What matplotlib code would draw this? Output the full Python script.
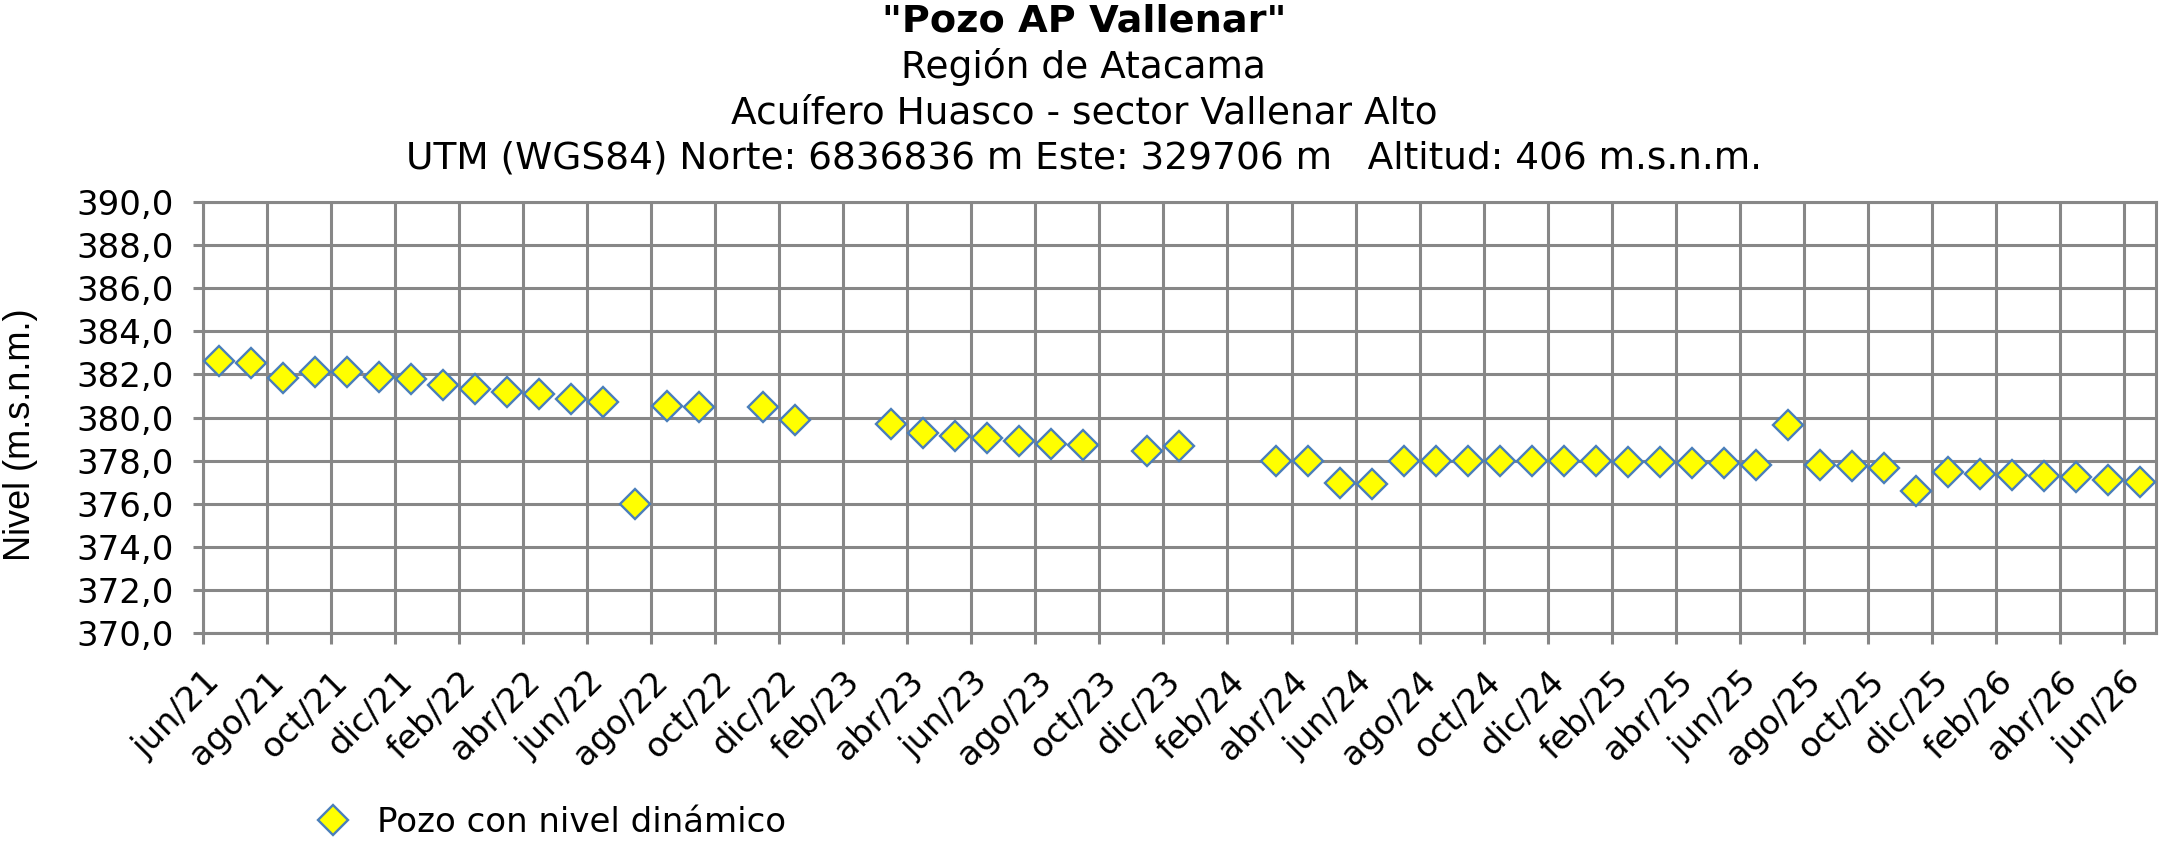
import matplotlib
matplotlib.use("Agg")
import matplotlib.pyplot as plt
import matplotlib.transforms as mtransforms
from matplotlib.lines import Line2D

# meses desde jun/21 (0) ; cada medicion a mitad de mes
mes = [0, 1, 2, 3, 4, 5, 6, 7, 8, 9, 10, 11, 12, 13, 14, 15,
       17, 18,
       21, 22, 23, 24, 25, 26, 27,
       29, 30,
       33, 34, 35, 36, 37, 38, 39, 40, 41, 42, 43, 44, 45, 46, 47, 48,
       49, 50, 51, 52, 53, 54, 55, 56, 57, 58, 59, 60]
nivel = [382.62, 382.52, 381.83, 382.09, 382.09, 381.89, 381.81, 381.51,
         381.31, 381.20, 381.08, 380.85, 380.70, 375.98, 380.52, 380.49,
         380.47, 379.87,
         379.72, 379.27, 379.15, 379.06, 378.90, 378.77, 378.74,
         378.44, 378.69,
         377.97, 377.97, 376.95, 376.92, 378.00, 378.00, 378.00, 378.00,
         378.00, 378.00, 378.00, 377.92, 377.92, 377.89, 377.89, 377.81,
         379.63, 377.81, 377.74, 377.66, 376.57, 377.46, 377.38, 377.33,
         377.30, 377.22, 377.12, 377.02]

tick_mes = list(range(0, 61, 2))
tick_lbl = ['jun/21', 'ago/21', 'oct/21', 'dic/21', 'feb/22', 'abr/22',
            'jun/22', 'ago/22', 'oct/22', 'dic/22', 'feb/23', 'abr/23',
            'jun/23', 'ago/23', 'oct/23', 'dic/23', 'feb/24', 'abr/24',
            'jun/24', 'ago/24', 'oct/24', 'dic/24', 'feb/25', 'abr/25',
            'jun/25', 'ago/25', 'oct/25', 'dic/25', 'feb/26', 'abr/26',
            'jun/26']
y_ticks = list(range(370, 391, 2))

titulo = '"Pozo AP Vallenar"'
subtitulos = ['Región de Atacama',
              'Acuífero Huasco - sector Vallenar Alto',
              'UTM (WGS84) Norte: 6836836 m Este: 329706 m   Altitud: 406 m.s.n.m.']

gris = '#878787'
plt.rcParams['font.family'] = 'DejaVu Sans'

fig = plt.figure(figsize=(21.59, 8.41), dpi=100)
ax = fig.add_axes([0.0940, 0.2473, 0.9046, 0.5125])

x = [m + 0.5 for m in mes]
ax.plot(x, nivel, linestyle='none', marker='D', markersize=15,
        markerfacecolor='#FFFF00', markeredgecolor='#4A7EBB',
        markeredgewidth=1.7, zorder=3, clip_on=False)

ax.set_xlim(0, 61)
ax.set_ylim(370, 390)
ax.set_yticks(y_ticks)
ax.set_yticklabels([f'{v:.1f}'.replace('.', ',') for v in y_ticks], fontsize=24.5)
ax.set_xticks(tick_mes)
ax.set_xticklabels(tick_lbl, fontsize=24.5, rotation=45, ha='right', va='top',
                   rotation_mode='anchor')
off = mtransforms.ScaledTranslation(0.21, 0, fig.dpi_scale_trans)
for lab in ax.get_xticklabels():
    lab.set_transform(lab.get_transform() + off)

ax.grid(True, color=gris, linewidth=2.2, zorder=0)
ax.set_axisbelow(True)
for s in ax.spines.values():
    s.set_color(gris)
    s.set_linewidth(2.2)
ax.tick_params(axis='x', direction='out', length=8, width=2.2, color=gris, pad=15)
ax.tick_params(axis='y', direction='out', length=7, width=2.2, color=gris, pad=14)

fig.text(0.0093, 1 - 435 / 841, 'Nivel (m.s.n.m.)', rotation=90, fontsize=26,
         family='Liberation Sans', ha='center', va='center')

fig.text(0.502, 1 - 32 / 841, titulo, fontsize=27.5, fontweight='bold',
         ha='center', va='baseline')
for i, t in enumerate(subtitulos):
    fig.text(0.502, 1 - (78 + 45.5 * i) / 841, t, fontsize=27,
             ha='center', va='baseline')

h = Line2D([], [], linestyle='none', marker='D', markersize=15,
           markerfacecolor='#FFFF00', markeredgecolor='#4A7EBB',
           markeredgewidth=1.7)
fig.legend([h], ['Pozo con nivel dinámico'], loc='center left',
           bbox_to_anchor=(316 / 2159, 1 - 822 / 841), frameon=False,
           fontsize=24.5, borderpad=0, handlelength=1.0, handletextpad=0.8,
           borderaxespad=0)

fig.savefig('out.png', dpi=100)
